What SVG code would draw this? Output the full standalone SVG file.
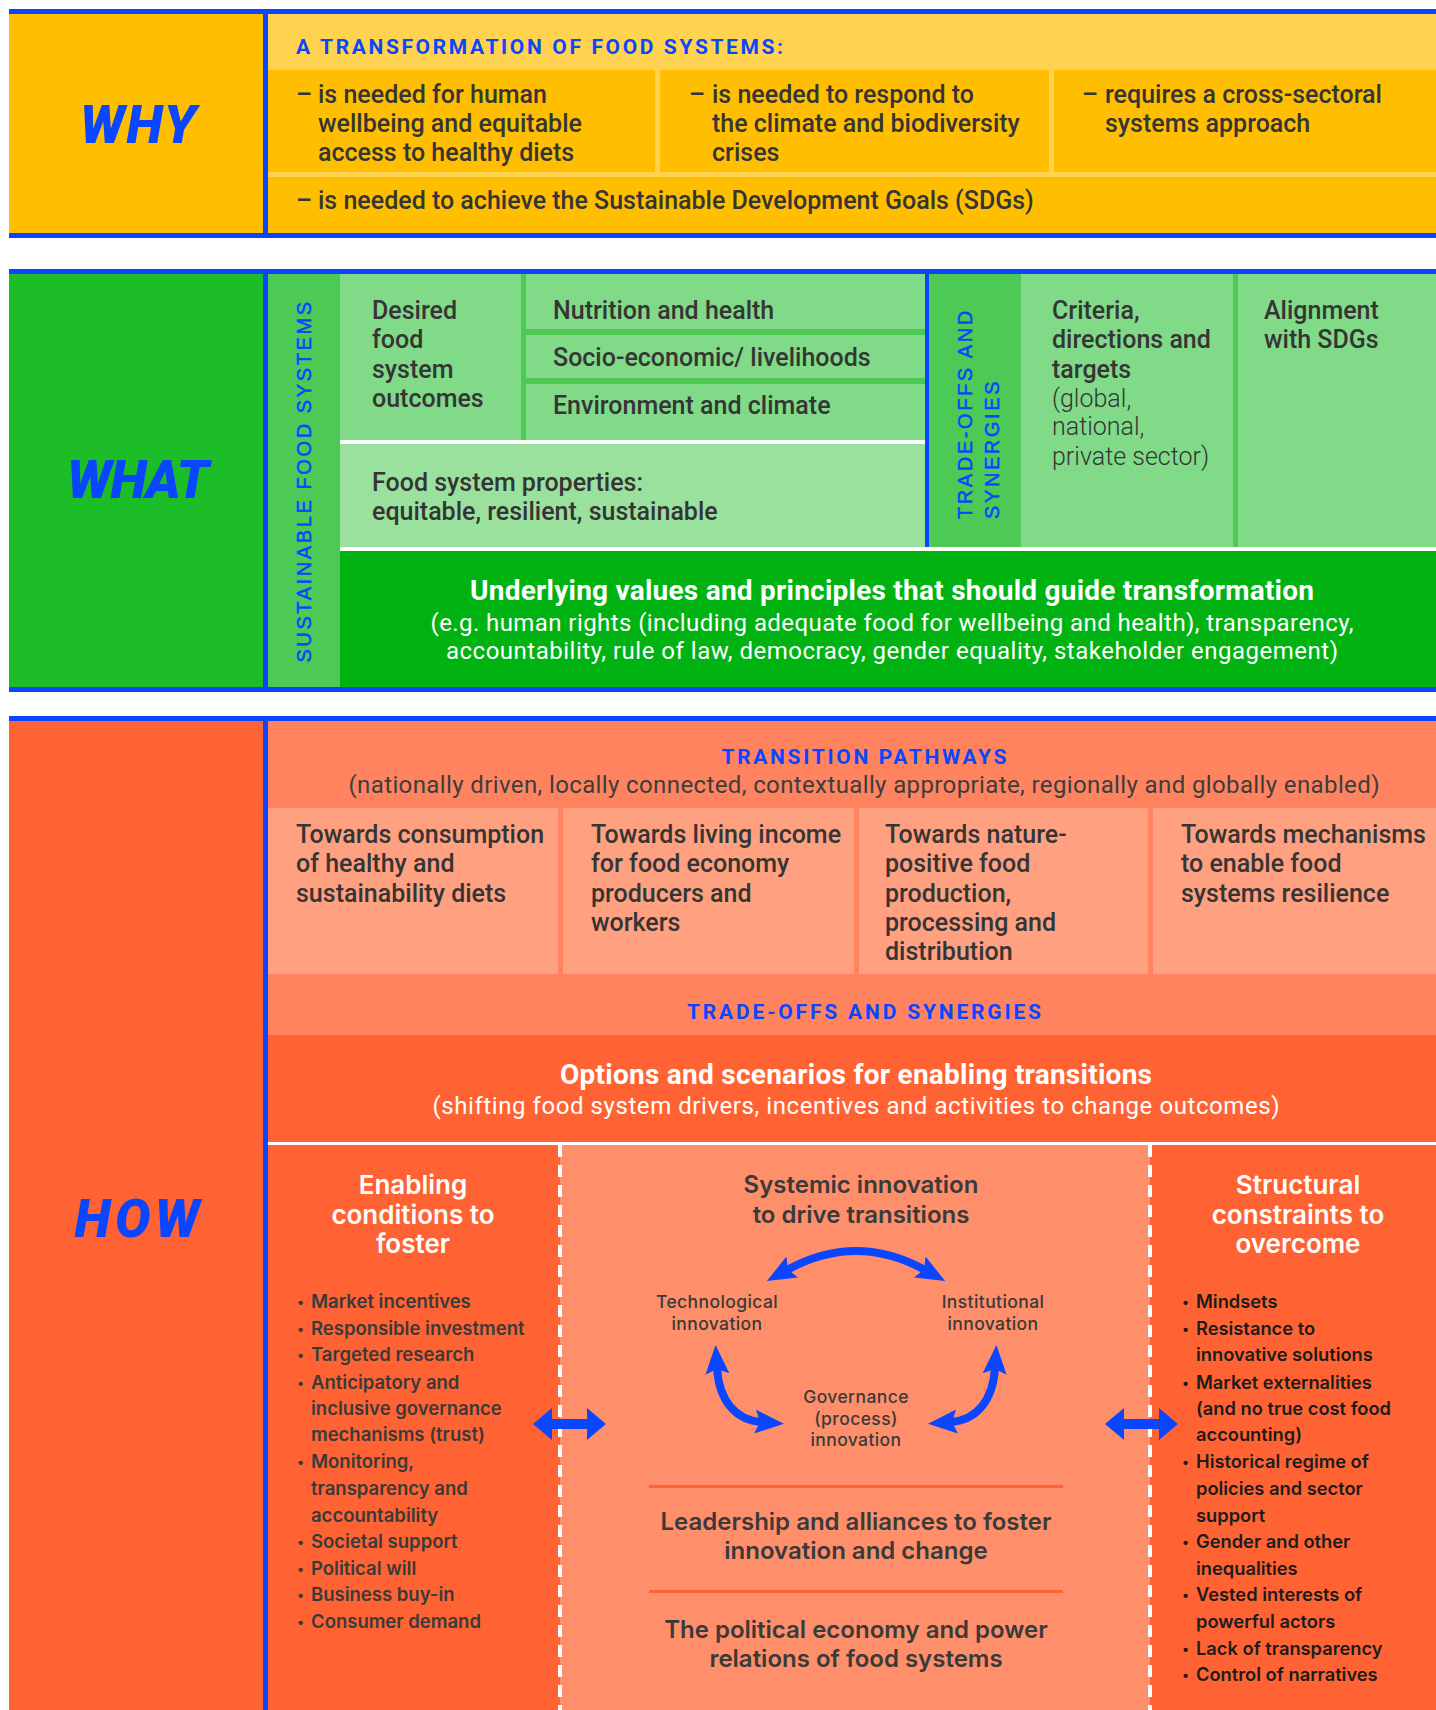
<svg xmlns="http://www.w3.org/2000/svg" width="1436" height="1710" viewBox="0 0 1436 1710">
<defs>
<style>
.t{font-family:Roboto,"Liberation Sans",sans-serif;font-weight:500;font-size:25px;fill:#353535}
.tr{font-family:Roboto,"Liberation Sans",sans-serif;font-weight:300;font-size:25px;fill:#353535}
.big{font-family:Roboto,"Liberation Sans",sans-serif;font-weight:900;font-style:italic;font-size:53px;fill:#0A45FF;text-anchor:middle}
.cap{font-family:Roboto,"Liberation Sans",sans-serif;font-weight:700;font-size:21px;fill:#0A45FF}
.capc{font-family:Roboto,"Liberation Sans",sans-serif;font-weight:700;font-size:21px;fill:#0A45FF;text-anchor:middle}
.vert{font-family:"Liberation Sans",Arial,sans-serif;font-size:20px;fill:#0A45FF;stroke:#0A45FF;stroke-width:0.5px;letter-spacing:2.6px}
.wb{font-family:Roboto,"Liberation Sans",sans-serif;font-weight:700;font-size:28px;fill:#fff;text-anchor:middle}
.wr{font-family:Roboto,"Liberation Sans",sans-serif;font-weight:400;font-size:24px;fill:#fff;text-anchor:middle}
.gr{font-family:Roboto,"Liberation Sans",sans-serif;font-weight:400;font-size:24px;fill:#3d3d3d;text-anchor:middle}
.h2{font-family:Inter,"Noto Sans",sans-serif;font-weight:600;font-size:26px;fill:#fff;text-anchor:middle}
.h3{font-family:Inter,"Noto Sans",sans-serif;font-weight:600;font-size:24px;fill:#3a3a3a;text-anchor:middle}
.sm{font-family:Inter,"Noto Sans",sans-serif;font-weight:500;font-size:17.5px;fill:#3a3a3a;text-anchor:middle;letter-spacing:0.4px}
.li{font-family:Inter,"Noto Sans",sans-serif;font-weight:600;font-size:18.5px;fill:#3a3a3a}
.lk{font-family:Inter,"Noto Sans",sans-serif;font-weight:600;font-size:18.3px;fill:#1c1c1c}
.bu{font-size:14px}
.blue{fill:#0A45FF}
.yel{fill:#FFBF00}
.ly{fill:#FFD34F}
.g1{fill:#1DBD27}
.g2{fill:#4CCA55}
.g3{fill:#80DA88}
.g4{fill:#9BE19E}
.g5{fill:#00B312}
.o1{fill:#FF6333}
.o2{fill:#FF835F}
.o3{fill:#FFA080}
.o4{fill:#FF8E6A}
.dash{stroke:#fff;stroke-width:4;stroke-dasharray:12 8;fill:none}
.arc{fill:none;stroke:#0A45FF;stroke-width:8;marker-start:url(#ah);marker-end:url(#ah)}
</style>
<marker id="ah" viewBox="0 -13 30 26" markerWidth="30" markerHeight="26" refX="6" refY="0" orient="auto-start-reverse" markerUnits="userSpaceOnUse"><path d="M0,-12 L29,0 L0,12 L5,0 Z" fill="#0A45FF"/></marker>
</defs>
<rect width="1436" height="1710" fill="#fff"/>

<!-- WHY -->
<g id="why">
<rect x="9" y="14" width="254" height="219" class="yel"/>
<rect x="268" y="14" width="1168" height="56" class="ly"/>
<rect x="268" y="70" width="1168" height="163" class="yel"/>
<rect x="655" y="70" width="5" height="102" class="ly"/>
<rect x="1049" y="70" width="5" height="102" class="ly"/>
<rect x="268" y="172" width="1168" height="5" class="ly"/>
<rect x="9" y="9" width="1427" height="5" class="blue"/>
<rect x="9" y="233" width="1427" height="5" class="blue"/>
<rect x="263" y="9" width="5" height="229" class="blue"/>
</g>
<g id="why-label"><text x="138" y="143" class="big" textLength="116">WHY</text></g>
<g id="why-header"><text x="296" y="54" class="cap" textLength="487">A TRANSFORMATION OF FOOD SYSTEMS:</text></g>
<g id="why-1" class="t">
<text x="296" y="103">–</text>
<text x="318" y="103">is needed for human</text>
<text x="318" y="132">wellbeing and equitable</text>
<text x="318" y="161">access to healthy diets</text>
</g>
<g id="why-2" class="t">
<text x="689" y="103">–</text>
<text x="712" y="103">is needed to respond to</text>
<text x="712" y="132">the climate and biodiversity</text>
<text x="712" y="161">crises</text>
</g>
<g id="why-3" class="t">
<text x="1082" y="103">–</text>
<text x="1105" y="103">requires a cross-sectoral</text>
<text x="1105" y="132">systems approach</text>
</g>
<g id="why-4" class="t">
<text x="296" y="209">–</text>
<text x="318" y="209">is needed to achieve the Sustainable Development Goals (SDGs)</text>
</g>

<!-- WHAT -->
<g id="what">
<rect x="9" y="274" width="254" height="413" class="g1"/>
<rect x="268" y="274" width="72" height="413" class="g2"/>
<rect x="340" y="274" width="585" height="166" class="g2"/>
<rect x="340" y="274" width="181" height="166" class="g3"/>
<rect x="526" y="274" width="399" height="55" class="g3"/>
<rect x="526" y="335" width="399" height="43" class="g3"/>
<rect x="526" y="384" width="399" height="56" class="g3"/>
<rect x="340" y="440" width="585" height="4" fill="#fff"/>
<rect x="340" y="444" width="585" height="103" class="g4"/>
<rect x="929" y="274" width="92" height="273" class="g2"/>
<rect x="1021" y="274" width="212" height="273" class="g3"/>
<rect x="1233" y="274" width="5" height="273" class="g2"/>
<rect x="1238" y="274" width="198" height="273" class="g3"/>
<rect x="340" y="547" width="1096" height="4" fill="#fff"/>
<rect x="340" y="551" width="1096" height="136" class="g5"/>
<rect x="925" y="274" width="4" height="273" class="blue"/>
<rect x="9" y="269" width="1427" height="5" class="blue"/>
<rect x="9" y="687" width="1427" height="5" class="blue"/>
<rect x="263" y="269" width="5" height="423" class="blue"/>
</g>
<g id="what-label"><text x="138" y="498" class="big" textLength="142">WHAT</text></g>
<g id="sustainable-food-systems"><text transform="translate(311,481) rotate(-90)" class="vert" text-anchor="middle">SUSTAINABLE FOOD SYSTEMS</text></g>
<g id="desired-outcomes" class="t">
<text x="372" y="319">Desired</text>
<text x="372" y="348">food</text>
<text x="372" y="378">system</text>
<text x="372" y="407">outcomes</text>
</g>
<g id="nutrition" class="t"><text x="553" y="319">Nutrition and health</text></g>
<g id="socio" class="t"><text x="553" y="366">Socio-economic/ livelihoods</text></g>
<g id="environment" class="t"><text x="553" y="414">Environment and climate</text></g>
<g id="properties" class="t">
<text x="372" y="491">Food system properties:</text>
<text x="372" y="520">equitable, resilient, sustainable</text>
</g>
<g id="tradeoffs-what">
<text transform="translate(972,519) rotate(-90)" class="vert">TRADE-OFFS AND</text>
<text transform="translate(999,519) rotate(-90)" class="vert">SYNERGIES</text>
</g>
<g id="criteria">
<text x="1052" y="319" class="t">Criteria,</text>
<text x="1052" y="348" class="t">directions and</text>
<text x="1052" y="378" class="t">targets</text>
<text x="1052" y="407" class="tr">(global,</text>
<text x="1052" y="435" class="tr">national,</text>
<text x="1052" y="465" class="tr">private sector)</text>
</g>
<g id="alignment" class="t">
<text x="1264" y="319">Alignment</text>
<text x="1264" y="348">with SDGs</text>
</g>
<g id="underlying">
<text x="892" y="600" class="wb" textLength="844">Underlying values and principles that should guide transformation</text>
<text x="892" y="631" class="wr" textLength="923">(e.g. human rights (including adequate food for wellbeing and health), transparency,</text>
<text x="892" y="659" class="wr" textLength="892">accountability, rule of law, democracy, gender equality, stakeholder engagement)</text>
</g>

<!-- HOW -->
<g id="how">
<rect x="9" y="721" width="254" height="989" class="o1"/>
<rect x="268" y="721" width="1168" height="87" class="o2"/>
<rect x="268" y="808" width="1168" height="166" class="o3"/>
<rect x="558" y="808" width="5" height="166" class="o2"/>
<rect x="854" y="808" width="5" height="166" class="o2"/>
<rect x="1148" y="808" width="5" height="166" class="o2"/>
<rect x="268" y="974" width="1168" height="61" class="o2"/>
<rect x="268" y="1035" width="1168" height="107" class="o1"/>
<rect x="268" y="1142" width="1168" height="3" fill="#fff"/>
<rect x="268" y="1145" width="292" height="565" class="o1"/>
<rect x="560" y="1145" width="590" height="565" class="o4"/>
<rect x="1150" y="1145" width="286" height="565" class="o1"/>
<line x1="560" y1="1145" x2="560" y2="1710" class="dash"/>
<line x1="1150" y1="1145" x2="1150" y2="1710" class="dash"/>
<rect x="649" y="1485" width="414" height="3" class="o1"/>
<rect x="649" y="1590" width="414" height="3" class="o1"/>
<rect x="9" y="716" width="1427" height="5" class="blue"/>
<rect x="263" y="716" width="5" height="994" class="blue"/>
</g>
<g id="how-label"><text x="137" y="1237" class="big" textLength="125">HOW</text></g>
<g id="transition-pathways">
<text x="864" y="764" class="capc" textLength="285">TRANSITION PATHWAYS</text>
<text x="864" y="793" class="gr" textLength="1031">(nationally driven, locally connected, contextually appropriate, regionally and globally enabled)</text>
</g>
<g id="pathway-1" class="t">
<text x="296" y="843">Towards consumption</text>
<text x="296" y="872">of healthy and</text>
<text x="296" y="902">sustainability diets</text>
</g>
<g id="pathway-2" class="t">
<text x="591" y="843">Towards living income</text>
<text x="591" y="872">for food economy</text>
<text x="591" y="902">producers and</text>
<text x="591" y="931">workers</text>
</g>
<g id="pathway-3" class="t">
<text x="885" y="843">Towards nature-</text>
<text x="885" y="872">positive food</text>
<text x="885" y="902">production,</text>
<text x="885" y="931">processing and</text>
<text x="885" y="960">distribution</text>
</g>
<g id="pathway-4" class="t">
<text x="1181" y="843">Towards mechanisms</text>
<text x="1181" y="872">to enable food</text>
<text x="1181" y="902">systems resilience</text>
</g>
<g id="tradeoffs-how"><text x="864" y="1019" class="capc" textLength="354">TRADE-OFFS AND SYNERGIES</text></g>
<g id="options">
<text x="856" y="1084" class="wb" textLength="592">Options and scenarios for enabling transitions</text>
<text x="856" y="1114" class="wr" textLength="847">(shifting food system drivers, incentives and activities to change outcomes)</text>
</g>
<g id="enabling">
<text x="413" y="1194" class="h2">Enabling</text>
<text x="413" y="1224" class="h2">conditions to</text>
<text x="413" y="1253" class="h2">foster</text>
<g class="li">
<text x="297" y="1307" class="bu">•</text><text x="311" y="1308">Market incentives</text>
<text x="297" y="1334" class="bu">•</text><text x="311" y="1335">Responsible investment</text>
<text x="297" y="1360" class="bu">•</text><text x="311" y="1361">Targeted research</text>
<text x="297" y="1388" class="bu">•</text><text x="311" y="1389">Anticipatory and</text>
<text x="311" y="1415">inclusive governance</text>
<text x="311" y="1441">mechanisms (trust)</text>
<text x="297" y="1467" class="bu">•</text><text x="311" y="1468">Monitoring,</text>
<text x="311" y="1495">transparency and</text>
<text x="311" y="1522">accountability</text>
<text x="297" y="1547" class="bu">•</text><text x="311" y="1548">Societal support</text>
<text x="297" y="1574" class="bu">•</text><text x="311" y="1575">Political will</text>
<text x="297" y="1600" class="bu">•</text><text x="311" y="1601">Business buy-in</text>
<text x="297" y="1627" class="bu">•</text><text x="311" y="1628">Consumer demand</text>
</g>
</g>
<g id="systemic-innovation">
<text x="861" y="1193" class="h3">Systemic innovation</text>
<text x="861" y="1223" class="h3">to drive transitions</text>
</g>
<g id="technological" class="sm">
<text x="717" y="1308">Technological</text>
<text x="717" y="1330">innovation</text>
</g>
<g id="institutional" class="sm">
<text x="993" y="1308">Institutional</text>
<text x="993" y="1330">innovation</text>
</g>
<g id="governance" class="sm">
<text x="856" y="1403">Governance</text>
<text x="856" y="1425">(process)</text>
<text x="856" y="1446">innovation</text>
</g>
<g id="leadership">
<text x="856" y="1530" class="h3">Leadership and alliances to foster</text>
<text x="856" y="1559" class="h3">innovation and change</text>
</g>
<g id="political-economy">
<text x="856" y="1638" class="h3">The political economy and power</text>
<text x="856" y="1667" class="h3">relations of food systems</text>
</g>
<g id="structural">
<text x="1298" y="1194" class="h2">Structural</text>
<text x="1298" y="1224" class="h2">constraints to</text>
<text x="1298" y="1253" class="h2">overcome</text>
<g class="lk">
<text x="1182" y="1307" class="bu">•</text><text x="1196" y="1308">Mindsets</text>
<text x="1182" y="1334" class="bu">•</text><text x="1196" y="1335">Resistance to</text>
<text x="1196" y="1361">innovative solutions</text>
<text x="1182" y="1388" class="bu">•</text><text x="1196" y="1389">Market externalities</text>
<text x="1196" y="1415">(and no true cost food</text>
<text x="1196" y="1441">accounting)</text>
<text x="1182" y="1467" class="bu">•</text><text x="1196" y="1468">Historical regime of</text>
<text x="1196" y="1495">policies and sector</text>
<text x="1196" y="1522">support</text>
<text x="1182" y="1547" class="bu">•</text><text x="1196" y="1548">Gender and other</text>
<text x="1196" y="1575">inequalities</text>
<text x="1182" y="1600" class="bu">•</text><text x="1196" y="1601">Vested interests of</text>
<text x="1196" y="1628">powerful actors</text>
<text x="1182" y="1654" class="bu">•</text><text x="1196" y="1655">Lack of transparency</text>
<text x="1182" y="1680" class="bu">•</text><text x="1196" y="1681">Control of narratives</text>
</g>
</g>

<!-- connectors -->
<g id="connectors">
<path class="arc" d="M787,1270 Q856,1232 925,1270"/>
<path class="arc" d="M717,1368 C719,1400 735,1420 761,1422"/>
<path class="arc" d="M995,1368 C993,1400 977,1420 951,1422"/>
<polygon class="blue" points="533,1424 552,1408 552,1419 587,1419 587,1408 606,1424 587,1440 587,1429 552,1429 552,1440"/>
<polygon class="blue" points="1105,1424 1124,1408 1124,1419 1159,1419 1159,1408 1178,1424 1159,1440 1159,1429 1124,1429 1124,1440"/>
</g>
</svg>
